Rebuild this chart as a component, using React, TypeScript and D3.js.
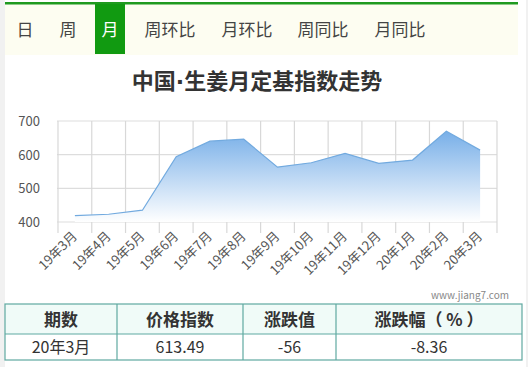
import React from "react";
import * as d3 from "d3";

const tabs = ["日", "周", "月", "周环比", "月环比", "周同比", "月同比"];
const tabX = [25, 68, 110, 170, 247, 323, 400];
const categories = ["19年3月", "19年4月", "19年5月", "19年6月", "19年7月", "19年8月", "19年9月", "19年10月", "19年11月", "19年12月", "20年1月", "20年2月", "20年3月"];
const values = [419, 423, 435, 594, 640, 646, 563, 576, 604, 574, 584, 669.49, 613.49];
const yTicks = [400, 500, 600, 700];
const tableHeader = ["期数", "价格指数", "涨跌值", "涨跌幅（ % ）"];
const tableRow = ["20年3月", "613.49", "-56", "-8.36"];
const colEdges = [5, 117, 243, 336, 522];

const FONT = "'Noto Sans CJK SC', 'Microsoft YaHei', sans-serif";

export default function App() {
  const left = 58, right = 497, top = 121, bottom = 222;
  const x = d3.scaleBand<string>().domain(categories).range([left, right]);
  const y = d3.scaleLinear().domain([400, 700]).range([bottom, top]);
  const cx = (c: string) => (x(c) as number) + x.bandwidth() / 2;
  const pts: [number, number][] = categories.map((c, i) => [cx(c), values[i]]);
  const line = d3.line<[number, number]>().x(d => d[0]).y(d => y(d[1]))(pts) || "";
  const area = d3.area<[number, number]>().x(d => d[0]).y0(bottom).y1(d => y(d[1]))(pts) || "";
  const bounds = categories.map(c => x(c) as number).concat([right]);

  return (
    <div style={{ position: "absolute", left: 0, top: 0 }}>
      <svg width={528} height={367} style={{ display: "block", fontFamily: FONT }}>
        <rect x={0} y={0} width={528} height={367} fill="#f1f1f1" />
        <rect x={5} y={0} width={521} height={367} fill="#ffffff" />
        {/* tab bar */}
        <rect x={5} y={4} width={513} height={51} fill="#fdfdf1" />
        <rect x={5} y={2} width={513} height={2.5} fill="#1f9a1f" />
        <rect x={95} y={4} width={30} height={50} fill="#119a11" />
        {tabs.map((t, i) => (
          <text key={t} x={tabX[i]} y={36} fontSize={17} textAnchor="middle" fill={i === 2 ? "#ffffff" : "#444444"}>{t}</text>
        ))}
        {/* title */}
        <text x={257} y={89} fontSize={22} fontWeight="bold" textAnchor="middle" fill="#333333">
          中国<tspan fontFamily="'DejaVu Sans', sans-serif">·</tspan>生姜月定基指数走势
        </text>
        <defs>
          <linearGradient id="fillGrad" x1="0" y1="0" x2="0" y2="1">
            <stop offset="0%" stopColor="#78afe8" />
            <stop offset="100%" stopColor="#ffffff" />
          </linearGradient>
        </defs>
        {/* grid */}
        {yTicks.map(t => (
          <line key={t} x1={left - 1} x2={right} y1={y(t)} y2={y(t)} stroke="#dddddd" strokeWidth={1.2} />
        ))}
        {bounds.map((b, i) => (
          <line key={i} x1={b} x2={b} y1={top} y2={233} stroke="#d8d8d8" strokeWidth={1.2} />
        ))}
        <path d={area} fill="url(#fillGrad)" />
        <path d={line} fill="none" stroke="#72aadf" strokeWidth={1.2} />
        {yTicks.map(t => (
          <text key={t} x={40} y={y(t) + 5} fontSize={13} textAnchor="end" fill="#555555">{t}</text>
        ))}
        {categories.map(c => (
          <text key={c} transform={`translate(${cx(c) + 3},${237}) rotate(-45)`} fontSize={13} textAnchor="end" fill="#555555">{c}</text>
        ))}
        <text x={509} y={299} fontSize={10} textAnchor="end" fill="#888888">www.jiang7.com</text>
        {/* table */}
        <rect x={5} y={304} width={517} height={30} fill="#f0fbf8" />
        <rect x={5} y={334} width={517} height={26} fill="#ffffff" />
        <rect x={5} y={304} width={517} height={56} fill="none" stroke="#5fa9a1" strokeWidth={1.2} />
        <line x1={5} x2={522} y1={334} y2={334} stroke="#5fa9a1" strokeWidth={1.2} />
        {colEdges.slice(1, -1).map(e => (
          <line key={e} x1={e} x2={e} y1={304} y2={360} stroke="#5fa9a1" strokeWidth={1.2} />
        ))}
        {tableHeader.map((h, i) => (
          <text key={h} x={(colEdges[i] + colEdges[i + 1]) / 2} y={326} fontSize={17} fontWeight="bold" textAnchor="middle" fill="#333333">{h}</text>
        ))}
        {tableRow.map((v, i) => (
          <text key={i} x={(colEdges[i] + colEdges[i + 1]) / 2} y={353} fontSize={16} textAnchor="middle" fill="#333333">{v}</text>
        ))}
      </svg>
    </div>
  );
}
